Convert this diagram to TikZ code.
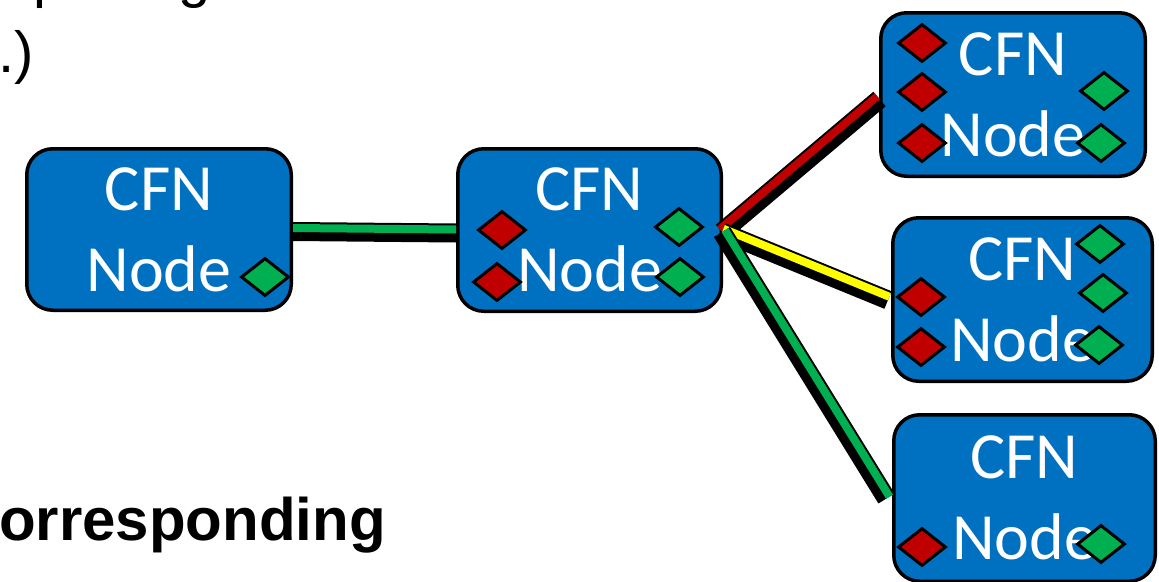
\documentclass[tikz,border=0pt]{standalone}
\usepackage{fontspec}
\newfontfamily\cfnfont{Carlito}
\newfontfamily\slidefont{Liberation Sans}
\usetikzlibrary{calc,shapes.geometric}

\definecolor{cfnblue}{HTML}{0070C0}
\definecolor{portred}{HTML}{C00000}
\definecolor{portgreen}{HTML}{00B050}
\definecolor{linkyellow}{HTML}{FFFF00}

% a link: a wide black band with a narrower coloured band laid along its upper side
\newcommand{\cfnlink}[3]{%
  \draw[linkback] (#1) -- (#2);
  \draw[linkfront, draw=#3] ($(#1)!3.5pt!90:(#2)$) -- ($(#2)!3.5pt!-90:(#1)$);
}

\begin{document}
\begin{tikzpicture}[x=1pt, y=-1pt,
  cfnbox/.style={draw=black, line width=3.5pt, fill=cfnblue, rounded corners=26pt,
    inner sep=0pt, text=white, align=center,
    font=\cfnfont\fontsize{66}{81}\selectfont},
  port/.style={diamond, draw=black, line width=3pt, inner sep=0pt,
    minimum width=48pt, minimum height=38pt},
  inport/.style={port, fill=portred},
  outport/.style={port, fill=portgreen},
  linkback/.style={draw=black, line width=19pt, line cap=butt},
  linkfront/.style={line width=8pt, line cap=butt},
  slidetext/.style={inner sep=0pt, font=\slidefont\fontsize{58}{70}\selectfont},
  slidebold/.style={inner sep=0pt, font=\slidefont\bfseries\fontsize{60}{72}\selectfont},
]
\useasboundingbox (0,0) rectangle (1159,581);
\clip (0,0) rectangle (1159,581);

% slide text around the diagram
\node[slidetext, anchor=base west] (line1) at (33,-4) {porting};
\node[slidetext, anchor=base west] (line2) at (-2,72) {.)};
\node[slidebold, anchor=base east] (line3) at (386,540) {orresponding};

% CFN nodes
\node[cfnbox, minimum width=264.5pt, minimum height=161.5pt] (A) at (159,229.5) {CFN\\Node};
\node[cfnbox, minimum width=263.5pt, minimum height=162.5pt] (B) at (589.5,230) {CFN\\Node};
\node[cfnbox, minimum width=264.5pt, minimum height=163.5pt] (C) at (1013,94.5) {CFN\\Node};
\node[cfnbox, minimum width=259.5pt, minimum height=163.5pt] (D) at (1022.5,299.5) {CFN\\Node};
\node[cfnbox, minimum width=261.5pt, minimum height=166.5pt] (E) at (1024.5,498) {CFN\\Node};

% ports
\node[outport] (Ag1) at (265,277) {};

\node[inport]  (Br1) at (502,230) {};
\node[inport]  (Br2) at (497,282) {};
\node[outport] (Bg1) at (679,227) {};
\node[outport] (Bg2) at (680,277) {};

\node[inport]  (Cr1) at (922,43) {};
\node[inport]  (Cr2) at (922,92) {};
\node[inport]  (Cr3) at (922,143) {};
\node[outport] (Cg1) at (1104,91) {};
\node[outport] (Cg2) at (1101,143) {};

\node[inport]  (Dr1) at (921,297) {};
\node[inport]  (Dr2) at (921,347) {};
\node[outport] (Dg1) at (1100,244) {};
\node[outport] (Dg2) at (1103,293) {};
\node[outport] (Dg3) at (1099,345) {};

\node[inport]  (Er1) at (922,547) {};
\node[outport] (Eg1) at (1101,544) {};

% link end points
\coordinate (abL) at ($(A.east)+(0,2)$);
\coordinate (abR) at ($(B.west)+(0,3)$);
\coordinate (bOut) at ($(B.east)+(-1,2)$);
\coordinate (cIn) at ($(C.west)+(0.5,4.5)$);
\coordinate (dIn) at ($(D.west)+(-3,0.5)$);
\coordinate (eIn) at ($(E.west)+(-5.5,0.5)$);

% links
\cfnlink{abL}{abR}{portgreen}
\cfnlink{bOut}{cIn}{portred}
\cfnlink{bOut}{dIn}{linkyellow}
\cfnlink{bOut}{eIn}{portgreen}
\end{tikzpicture}
\end{document}
